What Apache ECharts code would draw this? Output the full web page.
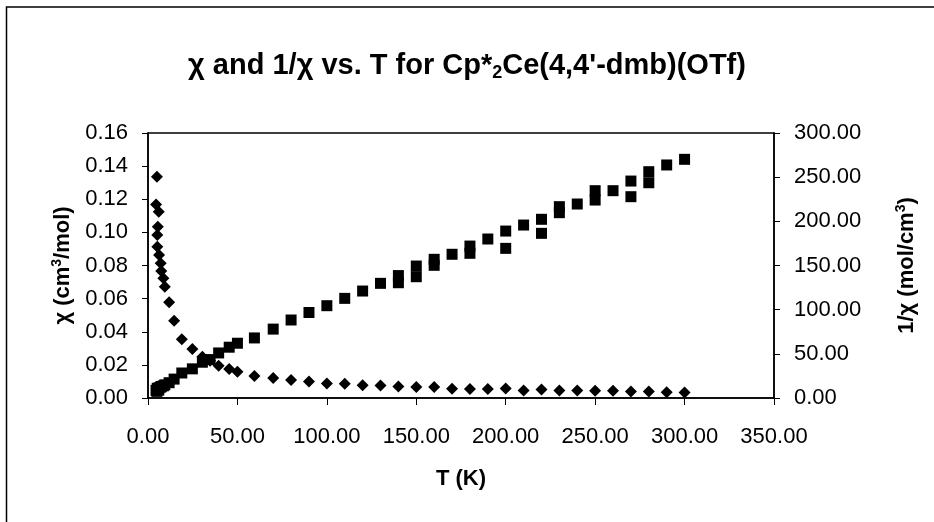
<!DOCTYPE html>
<html>
<head>
<meta charset="utf-8">
<title>χ and 1/χ vs. T for Cp*2Ce(4,4'-dmb)(OTf)</title>
<script src="https://cdn.jsdelivr.net/npm/echarts@6/dist/echarts.min.js"></script>
<style>
  html, body { margin: 0; padding: 0; background: #fff; }
  #chart { width: 934px; height: 522px; }
</style>
</head>
<body>
<div id="chart"></div>
<script>
// Magnetic susceptibility χ (cm³/mol) against temperature T (K)
const chiT = [5.0, 4.5, 6.0, 5.5, 5.2, 5.2, 6.2, 7.1, 7.4, 8.6, 9.4, 11.8, 14.6, 18.9, 24.8, 30.4, 34.7, 39.5, 45.4, 50,
  59.5, 70, 80, 90, 100, 110, 120, 130, 140, 150, 160, 170, 180, 190, 200, 210, 220, 230, 240, 250, 260, 270, 280, 290, 300];
const chiVal = [0.1336, 0.1169, 0.1125, 0.1034, 0.0984, 0.0913, 0.0863, 0.0813, 0.0767, 0.0723, 0.0672, 0.0578, 0.0467,
  0.0354, 0.0296, 0.0249, 0.0225, 0.0195, 0.0175, 0.0158, 0.0133, 0.0121, 0.0109, 0.0099, 0.0088, 0.0086, 0.0077, 0.0075,
  0.0069, 0.0066, 0.0067, 0.0056, 0.0055, 0.0054, 0.0057, 0.0046, 0.0052, 0.0045, 0.0045, 0.0044, 0.0044, 0.0039, 0.0039,
  0.0034, 0.0033];

// Inverse susceptibility 1/χ (mol/cm³) against temperature T (K)
const invT = [4.5, 5.0, 5.2, 5.2, 5.5, 6.0, 6.2, 7.1, 7.4, 8.6, 9.4, 11.8, 14.6, 18.9, 24.8, 30.4, 34.7, 39.5, 45.4, 50,
  59.5, 70, 80, 90, 100, 110, 120, 130, 140, 140, 150, 150, 160, 160, 170, 180, 180, 190, 200, 200, 210, 220, 220, 230, 230,
  240, 250, 250, 260, 270, 270, 280, 280, 290, 300];
const invVal = [8.6, 7.5, 10.2, 11.0, 9.7, 8.9, 11.6, 12.3, 13.0, 13.8, 14.9, 17.3, 21.4, 28.3, 33.0, 40.5, 43.5, 51.0, 57.5,
  62.0, 68.0, 78.0, 88.3, 96.8, 104.5, 112.8, 121.1, 129.8, 138.6, 130.5, 149.4, 137.3, 157.0, 150.2, 162.7, 172.0, 163.8,
  180.0, 189.0, 169.4, 195.8, 202.3, 186.4, 216.6, 209.8, 219.6, 234.7, 224.1, 234.7, 245.6, 227.9, 256.2, 243.7, 263.8, 270.2];

// Axis ranges and tick spacing
const tRange = [0, 350, 50];
const chiRange = [0, 0.16, 0.02];
const invRange = [0, 300, 50];

const FONT = "'Liberation Sans', Arial, sans-serif";

const chiPoints = chiT.map((t, i) => [t, chiVal[i]]);
const invPoints = invT.map((t, i) => [t, invVal[i]]);

const fmt2 = v => v.toFixed(2);

const nameRich = {
  n: { fontFamily: FONT, fontWeight: 'bold', fontSize: 22, color: '#000', lineHeight: 26 },
  p: { fontFamily: FONT, fontWeight: 'bold', fontSize: 14, color: '#000', lineHeight: 26, verticalAlign: 'top' }
};

const chart = echarts.init(document.getElementById('chart'), null, { renderer: 'canvas' });

chart.setOption({
  animation: false,
  backgroundColor: '#ffffff',
  title: {
    text: "{a|χ and 1/χ vs. T for Cp*}{s|2}{a|Ce(4,4'-dmb)(OTf)}",
    left: 'center',
    top: 44,
    textStyle: {
      rich: {
        a: { fontFamily: FONT, fontWeight: 'bold', fontSize: 29, color: '#000', lineHeight: 33 },
        s: { fontFamily: FONT, fontWeight: 'bold', fontSize: 18, color: '#000', lineHeight: 33, verticalAlign: 'bottom' }
      }
    }
  },
  graphic: [{
    type: 'rect',
    shape: { x: 6.5, y: 7, width: 1000, height: 1000 },
    style: { fill: 'none', stroke: '#000', lineWidth: 1.5 },
    silent: true
  }],
  grid: {
    left: 148, right: 160, top: 133, bottom: 124,
    show: true, borderColor: '#000', borderWidth: 1.5, backgroundColor: 'transparent'
  },
  xAxis: {
    type: 'value',
    min: tRange[0], max: tRange[1], interval: tRange[2],
    name: 'T (K)',
    nameLocation: 'middle',
    nameGap: 70,
    nameTextStyle: { fontFamily: FONT, fontWeight: 'bold', fontSize: 22, color: '#000' },
    axisLine: { show: true, onZero: false, lineStyle: { color: '#000', width: 1.5 } },
    axisTick: { show: true, inside: false, length: 7, lineStyle: { color: '#000', width: 1 } },
    axisLabel: { formatter: fmt2, fontFamily: FONT, fontSize: 22, color: '#000', margin: 28 },
    splitLine: { show: false }
  },
  yAxis: [{
    type: 'value',
    position: 'left',
    min: chiRange[0], max: chiRange[1], interval: chiRange[2],
    name: '{n|χ (cm}{p|3}{n|/mol)}',
    nameLocation: 'middle',
    nameGap: 50,
    nameRotate: 90,
    nameTextStyle: { rich: nameRich },
    axisLine: { show: true, onZero: false, lineStyle: { color: '#000', width: 1.5 } },
    axisTick: { show: true, inside: false, length: 6, lineStyle: { color: '#000', width: 1 } },
    axisLabel: { formatter: fmt2, fontFamily: FONT, fontSize: 22, color: '#000', margin: 20 },
    splitLine: { show: false }
  }, {
    type: 'value',
    position: 'right',
    min: invRange[0], max: invRange[1], interval: invRange[2],
    name: '{n|1/χ (mol/cm}{p|3}{n|)}',
    nameLocation: 'middle',
    nameGap: 120,
    nameRotate: 90,
    nameTextStyle: { rich: nameRich },
    axisLine: { show: true, onZero: false, lineStyle: { color: '#000', width: 1.5 } },
    axisTick: { show: true, inside: false, length: 6, lineStyle: { color: '#000', width: 1 } },
    axisLabel: { formatter: fmt2, fontFamily: FONT, fontSize: 22, color: '#000', margin: 20 },
    splitLine: { show: false }
  }],
  series: [{
    name: 'χ',
    type: 'scatter',
    yAxisIndex: 0,
    symbol: 'diamond',
    symbolSize: 12,
    itemStyle: { color: '#000', opacity: 1 },
    data: chiPoints
  }, {
    name: '1/χ',
    type: 'scatter',
    yAxisIndex: 1,
    symbol: 'rect',
    symbolSize: 11,
    itemStyle: { color: '#000', opacity: 1 },
    data: invPoints
  }]
});
</script>
</body>
</html>
